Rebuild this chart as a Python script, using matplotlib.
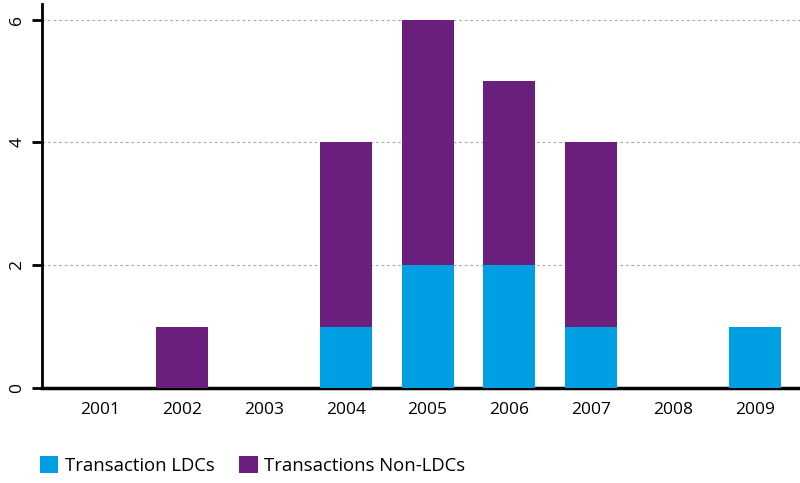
import matplotlib
matplotlib.use("Agg")
import matplotlib.pyplot as plt
import numpy as np

years = ["2001", "2002", "2003", "2004", "2005", "2006", "2007", "2008", "2009"]
ldc = [0, 0, 0, 1, 2, 2, 1, 0, 1]
non_ldc = [0, 1, 0, 3, 4, 3, 3, 0, 0]

plt.rcParams["font.family"] = ["Open Sans", "DejaVu Sans"]

fig = plt.figure(figsize=(8, 4.83), dpi=100)
ax = fig.add_axes([0.0525, 0.197, 0.9475, 0.795])

x = np.arange(len(years))
w = 0.635
b1 = ax.bar(x, ldc, width=w, color="#009FE3", label="Transaction LDCs", zorder=3)
b2 = ax.bar(x, non_ldc, width=w, bottom=ldc, color="#6A1F7C",
            label="Transactions Non-LDCs", zorder=3)

ax.set_xlim(-0.71, 8.55)
ax.set_ylim(0, 6.26)
ax.set_xticks(x)
ax.set_xticklabels(years, fontsize=12.5)
ax.set_yticks([0, 2, 4, 6])
ax.set_yticklabels(["0", "2", "4", "6"], rotation=90, va="center", fontsize=12.5)
ax.tick_params(axis="x", length=0, pad=10)
ax.tick_params(axis="y", length=7, width=2, pad=5)

for y in [2, 4, 6]:
    ax.axhline(y, color="#aaaaaa", linestyle=(0, (2.5, 2.5)), linewidth=0.8, zorder=1)

for s in ["top", "right"]:
    ax.spines[s].set_visible(False)
ax.spines["left"].set_linewidth(2)
ax.spines["bottom"].set_linewidth(2.5)

fig.legend(handles=[b1, b2], loc="lower left", bbox_to_anchor=(0.029, -0.018),
           ncol=2, frameon=False, fontsize=13.3, handlelength=1.0,
           handleheight=1.0, handletextpad=0.35, columnspacing=1.35)

fig.savefig("out.png", dpi=100)
